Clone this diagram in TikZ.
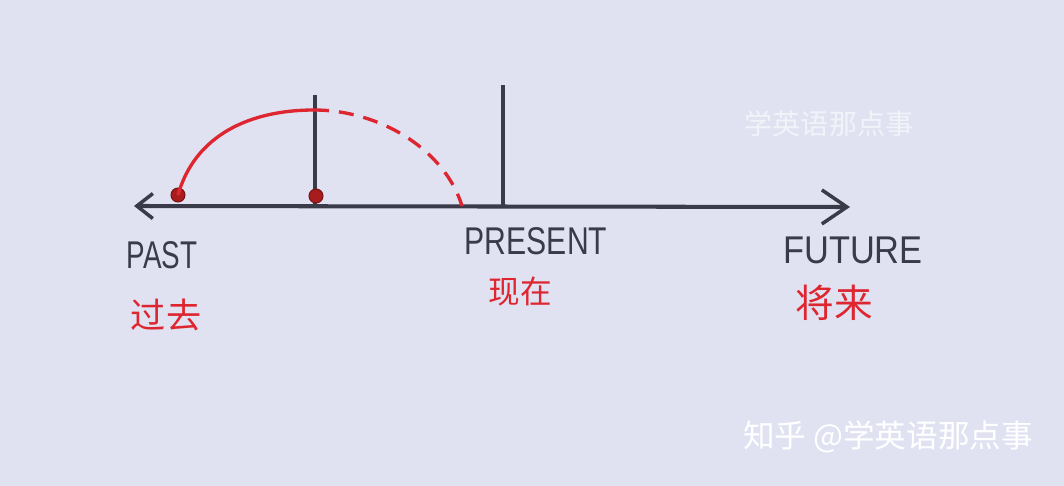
\documentclass[tikz,border=0pt]{standalone}
\usepackage{fontspec}
\setmainfont{Liberation Sans}
\newfontfamily\cjk{Noto Sans CJK SC}
\usetikzlibrary{arrows.meta}

\definecolor{paper}{RGB}{224,226,242}
\definecolor{ink}{RGB}{58,58,72}
\definecolor{pen}{RGB}{222,38,48}
\definecolor{dotred}{RGB}{168,28,30}

\tikzset{
  pastbarb/.tip={Straight Barb[length=0.32cm,width=0.5cm,line width=2pt]},
  futurebarb/.tip={Straight Barb[length=0.5cm,width=0.68cm,line width=2pt]},
  axisline/.style={ink, line width=2.3pt},
  tick/.style={ink, line width=2pt},
  redarc/.style={pen, line width=1.9pt},
  dot/.style={circle, fill=dotred, draw=dotred!70!black, line width=0.6pt, inner sep=0pt, minimum size=0.28cm},
  word/.style={text=ink, inner sep=0pt, anchor=base, font=\fontsize{22}{22}\selectfont},
  hanzi/.style={text=pen, inner sep=0pt, font=\cjk\fontsize{20}{20}\selectfont},
  watermark/.style={text=white, inner sep=0pt, font=\cjk\fontsize{16}{16}\selectfont}
}

\begin{document}
\begin{tikzpicture}[x=0.02cm,y=-0.02cm]
            \fill[paper] (0,0) rectangle (1064,486);

            % time axis
            \coordinate (left) at (134,206);
            \coordinate (right) at (850,207);
            \draw[axisline, pastbarb-futurebarb] (left) -- (right);

            % vertical markers
            \coordinate (then) at (315,206);
            \coordinate (thentop) at (315,95);
            \coordinate (now) at (503,206);
            \coordinate (nowtop) at (503,85);
            \draw[tick] (then) -- (thentop);
            \draw[tick] (now) -- (nowtop);

            % red curve
            \node[dot] (start) at (178,195) {};
            \node[dot] (mid) at (316,196) {};
            \coordinate (peak) at (314,110);
            \coordinate (land) at (462,206);
            \draw[redarc] (start.center) .. controls (195,135) and (250,110) .. (peak);
            \draw[redarc, dash pattern=on 0.3cm off 0.2cm] (peak) .. controls (380,110) and (445,150) .. (land);

            % labels
            \node[word, xscale=0.72] (past) at (162,268) {PAST};
            \node[word, xscale=0.78] (present) at (536,255) {PRESENT};
            \node[word, xscale=0.89] (future) at (853,263) {FUTURE};
            \node[hanzi] (guoqu) at (166,315) {过去};
            \node[hanzi, font=\cjk\fontsize{18}{18}\selectfont] (xianzai) at (520,292) {现在};
            \node[hanzi, font=\cjk\fontsize{22}{22}\selectfont] (jianglai) at (834,303) {将来};

            % watermarks
            \node[watermark, opacity=0.6] (logo) at (829,124) {学英语那点事};
            \node[watermark, font=\cjk\fontsize{18}{18}\selectfont] (zhihu) at (888,437) {知乎 @学英语那点事};
        \end{tikzpicture}
\end{document}
